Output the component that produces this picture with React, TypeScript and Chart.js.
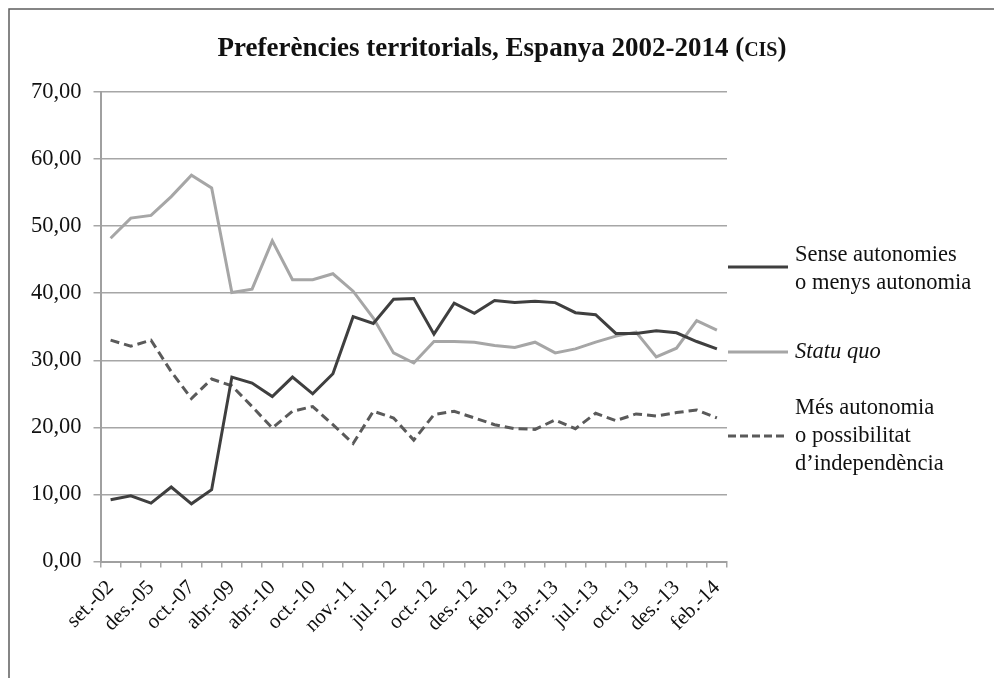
import React, { useEffect, useRef } from "react";
import { Chart, registerables } from "chart.js";

Chart.register(...registerables);

// 31 survey waves; only every second one carries a label on the axis
const categories = [
  "set.-02", "", "des.-05", "", "oct.-07", "", "abr.-09", "", "abr.-10", "", "oct.-10", "",
  "nov.-11", "", "jul.-12", "", "oct.-12", "", "des.-12", "", "feb.-13", "", "abr.-13", "",
  "jul.-13", "", "oct.-13", "", "des.-13", "", "feb.-14",
];

const senseAutonomies = [
  9.2, 9.8, 8.7, 11.1, 8.6, 10.7, 27.5, 26.6, 24.6, 27.5, 25.0, 28.0, 36.5, 35.5, 39.1, 39.2,
  33.9, 38.5, 37.0, 38.9, 38.6, 38.8, 38.6, 37.1, 36.8, 34.0, 34.0, 34.4, 34.1, 32.8, 31.7,
];

const statuQuo = [
  48.2, 51.2, 51.6, 54.4, 57.6, 55.7, 40.1, 40.6, 47.8, 42.0, 42.0, 42.9, 40.3, 36.3, 31.1, 29.6,
  32.8, 32.8, 32.7, 32.2, 31.9, 32.7, 31.1, 31.7, 32.7, 33.6, 34.2, 30.5, 31.8, 35.9, 34.5,
];

const mesAutonomia = [
  33.0, 32.1, 33.0, 28.3, 24.3, 27.2, 26.2, 23.1, 19.9, 22.4, 23.1, 20.4, 17.6, 22.4, 21.4, 18.1,
  21.9, 22.4, 21.4, 20.4, 19.8, 19.7, 21.1, 19.8, 22.1, 21.0, 22.0, 21.7, 22.2, 22.6, 21.4,
];

const yTicks = { min: 0, max: 70, step: 10 };

const titleMain = "Preferències territorials, Espanya 2002-2014 (";
const titleSmallCaps = "CIS";
const titleEnd = ")";

const legendItems = [
  { lines: ["Sense autonomies", "o menys autonomia"], italic: false, symbolLine: 0.5 },
  { lines: ["Statu quo"], italic: true, symbolLine: 0 },
  { lines: ["Més autonomia", "o possibilitat", "d’independència"], italic: false, symbolLine: 1 },
];

const SERIF = "'Liberation Serif', 'DejaVu Serif', serif";
const DARK = "#3f3f3f";
const GRAY = "#a6a6a6";
const DASH = "#5a5a5a";

export default function App() {
  const ref = useRef<HTMLCanvasElement | null>(null);

  useEffect(() => {
    if (!ref.current) return;

    const decorPlugin = {
      id: "decor",
      beforeDraw(chart: any) {
        const ctx = chart.ctx;
        ctx.save();
        ctx.fillStyle = "#ffffff";
        ctx.fillRect(0, 0, chart.width, chart.height);
        ctx.strokeStyle = "#5e5e5e";
        ctx.lineWidth = 1.5;
        ctx.beginPath();
        ctx.moveTo(9, chart.height);
        ctx.lineTo(9, 9);
        ctx.lineTo(chart.width, 9);
        ctx.stroke();
        ctx.restore();
      },
      afterDraw(chart: any) {
        const ctx = chart.ctx;
        const area = chart.chartArea;
        ctx.save();
        // title with small caps part
        const bigFont = `bold 27px ${SERIF}`;
        const smallFont = `bold 20px ${SERIF}`;
        ctx.font = bigFont;
        const w1 = ctx.measureText(titleMain).width;
        const w3 = ctx.measureText(titleEnd).width;
        ctx.font = smallFont;
        const w2 = ctx.measureText(titleSmallCaps).width;
        const total = w1 + w2 + w3;
        let x = 502 - total / 2;
        const base = 56;
        ctx.fillStyle = "#111111";
        ctx.textBaseline = "alphabetic";
        ctx.textAlign = "left";
        ctx.font = bigFont;
        ctx.fillText(titleMain, x, base);
        x += w1;
        ctx.font = smallFont;
        ctx.fillText(titleSmallCaps, x, base);
        x += w2;
        ctx.font = bigFont;
        ctx.fillText(titleEnd, x, base);

        // legend
        const symX0 = area.right + 1;
        const symX1 = area.right + 61;
        const textX = area.right + 68;
        const lineH = 28;
        const colors = [DARK, GRAY, DASH];
        const dashes = [[], [], [8, 4]];
        const firstLineY = [255, 352, 408];
        legendItems.forEach((item, k) => {
          const y0 = firstLineY[k];
          ctx.font = `${item.italic ? "italic " : ""}22.5px ${SERIF}`;
          ctx.fillStyle = "#111111";
          ctx.textBaseline = "middle";
          item.lines.forEach((ln, j) => ctx.fillText(ln, textX, y0 + j * lineH));
          const sy = y0 + item.symbolLine * lineH + (k === 0 ? -2 : 0);
          ctx.strokeStyle = colors[k];
          ctx.lineWidth = 3;
          ctx.setLineDash(dashes[k]);
          ctx.beginPath();
          ctx.moveTo(symX0, sy);
          ctx.lineTo(symX1, sy);
          ctx.stroke();
          ctx.setLineDash([]);
        });
        ctx.restore();
      },
    };

    const chart = new Chart(ref.current, {
      type: "line",
      data: {
        labels: categories,
        datasets: [
          {
            label: "Sense autonomies o menys autonomia",
            data: senseAutonomies,
            borderColor: DARK,
            borderWidth: 3,
            pointRadius: 0,
            tension: 0,
            fill: false,
          },
          {
            label: "Statu quo",
            data: statuQuo,
            borderColor: GRAY,
            borderWidth: 3,
            pointRadius: 0,
            tension: 0,
            fill: false,
          },
          {
            label: "Més autonomia o possibilitat d’independència",
            data: mesAutonomia,
            borderColor: DASH,
            borderWidth: 3,
            borderDash: [9, 5],
            pointRadius: 0,
            tension: 0,
            fill: false,
          },
        ],
      },
      options: {
        responsive: false,
        animation: false,
        devicePixelRatio: 1,
        layout: { padding: { left: 0, top: 92, right: 267, bottom: 0 } },
        plugins: {
          legend: { display: false },
          title: { display: false },
          tooltip: { enabled: false },
        },
        scales: {
          x: {
            type: "category",
            offset: true,
            grid: {
              display: true,
              drawOnChartArea: false,
              drawTicks: true,
              tickLength: 6,
              offset: true,
              color: GRAY,
              lineWidth: 1.5,
            },
            border: { color: "#a0a0a0", width: 2 },
            ticks: {
              autoSkip: false,
              maxRotation: 45,
              minRotation: 45,
              color: "#111111",
              padding: 8,
              font: { family: SERIF, size: 21 },
            },
            afterFit(scale: any) {
              scale.height = 116.5;
            },
          },
          y: {
            min: yTicks.min,
            max: yTicks.max,
            grid: { color: GRAY, lineWidth: 1.5, tickLength: 7, drawTicks: true },
            border: { color: "#a0a0a0", width: 2 },
            ticks: {
              stepSize: yTicks.step,
              color: "#111111",
              padding: 12,
              font: { family: SERIF, size: 22.5 },
              callback: (v: any) => Number(v).toFixed(2).replace(".", ","),
            },
            afterFit(scale: any) {
              scale.width = 100.5;
            },
          },
        },
      },
      plugins: [decorPlugin],
    });

    return () => chart.destroy();
  }, []);

  return (
    <div style={{ position: "absolute", left: 0, top: 0, width: 994, height: 678 }}>
      <canvas ref={ref} width={994} height={678} style={{ width: 994, height: 678, display: "block" }} />
    </div>
  );
}
